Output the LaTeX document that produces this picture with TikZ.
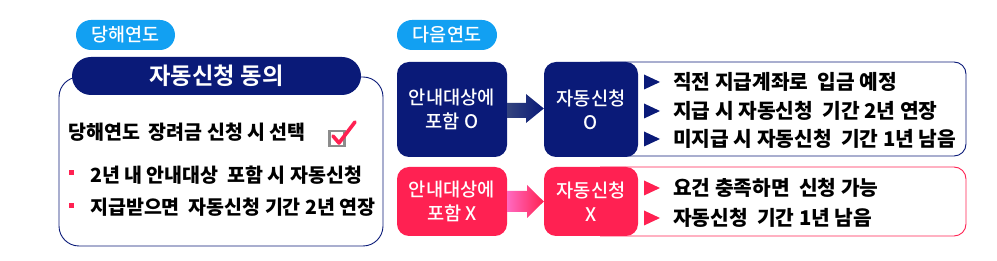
\documentclass[tikz,border=0pt]{standalone}
\usepackage{fontspec}
\setmainfont{Noto Sans CJK KR}[BoldFont={Noto Sans CJK KR Black}]
\newfontfamily\krm{Noto Sans CJK KR Medium}
\newfontfamily\krb{Noto Sans CJK KR Bold}
\definecolor{navy}{HTML}{0A1A78}
\definecolor{pinkr}{HTML}{FF2152}
\definecolor{skyb}{HTML}{12A0F2}
\definecolor{navyl}{HTML}{34447E}
\definecolor{pinkl}{HTML}{FF6AC0}
\definecolor{cbgray}{HTML}{8C8C8C}
\tikzset{
  pill/.style={fill=skyb, rounded corners=15pt, text=white},
  itemtxt/.style={anchor=west, font=\bfseries\fontsize{19.5}{22}\selectfont, inner sep=0pt},
  ritemtxt/.style={anchor=west, font=\bfseries\fontsize{20.3}{22}\selectfont, inner sep=0pt},
  boxtxt/.style={text=white, align=center, font=\krm\fontsize{18.7}{24}\selectfont},
}
\begin{document}
\begin{tikzpicture}[x=1pt,y=-1pt]
\useasboundingbox (0,0) rectangle (997,261);
% left column
\node[pill, minimum width=99pt, minimum height=30pt, inner sep=0pt, font=\krm\fontsize{18.5}{20}\selectfont] (p1) at (125.5,35) {당해연도};
\draw[navy, line width=0.9pt, rounded corners=20pt] (59,77) rectangle (383,246);
\node[fill=navy, rounded corners=19pt, minimum width=289pt, minimum height=38pt, inner sep=0pt, text=white, font=\krb\fontsize{23.3}{26}\selectfont] (h1) at (216.5,76) {자동신청 동의};
\node[itemtxt] (t1) at (68,132) {당해연도\ \ 장려금 신청 시 선택};
\node[draw=cbgray, fill=white, line width=2.2pt, minimum size=15pt, inner sep=0pt] (cb) at (337,138.5) {};
\draw[pinkr, line width=3.6pt, line cap=round, line join=round] (333,136) -- (339,143) -- (355,122);
\fill[pinkr] (69,170) rectangle (74,175);
\fill[pinkr] (69,203) rectangle (74,208);
\node[itemtxt] (t2) at (90,175) {2년 내 안내대상\ \ 포함 시 자동신청};
\node[itemtxt] (t3) at (90,207) {지급받으면\ \ 자동신청 기간 2년 연장};
% right column
\node[pill, minimum width=100pt, minimum height=30pt, inner sep=0pt, font=\krm\fontsize{18.5}{20}\selectfont] (p2) at (447,35) {다음연도};
% navy row
\draw[navy, line width=0.9pt, rounded corners=12pt] (600,62) -- (966,62) -- (966,156) -- (600,156);
\node[fill=navy, rounded corners=12pt, minimum width=110pt, minimum height=95pt, inner sep=0pt, boxtxt] (a1) at (452,109.5) {안내대상에\\포함 O};
\node[fill=navy, rounded corners=12pt, minimum width=94pt, minimum height=95pt, inner sep=0pt, boxtxt] (b1) at (591,109.5) {자동신청\\O};
\shade[left color=navyl, right color=navy] (a1.east |- 0,103) -- (526,103) -- (526,94) -- (b1.west |- 0,108.5) -- (526,123) -- (526,118) -- (a1.east |- 0,118) -- cycle;
\foreach \yy/\tt in {82/직전 지급계좌로\ \ 입금 예정, 111/지급 시 자동신청\ \ 기간 2년 연장, 139/미지급 시 자동신청\ \ 기간 1년 남음}{
  \fill[navy] (644,\yy-7.5) -- (660,\yy) -- (644,\yy+7.5) -- cycle;
  \node[ritemtxt] at (673,\yy) {\tt};
}
% pink row
\draw[pinkr, line width=0.9pt, rounded corners=12pt] (600,167) -- (966,167) -- (966,236) -- (600,236);
\node[fill=pinkr, rounded corners=12pt, minimum width=110pt, minimum height=69pt, inner sep=0pt, boxtxt] (a2) at (452,201.5) {안내대상에\\포함 X};
\node[fill=pinkr, rounded corners=12pt, minimum width=94pt, minimum height=69pt, inner sep=0pt, boxtxt] (b2) at (591,201.5) {자동신청\\X};
\shade[left color=pinkl, right color=pinkr] (a2.east |- 0,191) -- (527,191) -- (527,185) -- (b2.west |- 0,201.5) -- (527,218) -- (527,212) -- (a2.east |- 0,212) -- cycle;
\foreach \yy/\tt in {188/요건 충족하면\ \ 신청 가능, 218/자동신청\ \ 기간 1년 남음}{
  \fill[pinkr] (644,\yy-7.5) -- (660,\yy) -- (644,\yy+7.5) -- cycle;
  \node[ritemtxt] at (673,\yy) {\tt};
}
\end{tikzpicture}
\end{document}
